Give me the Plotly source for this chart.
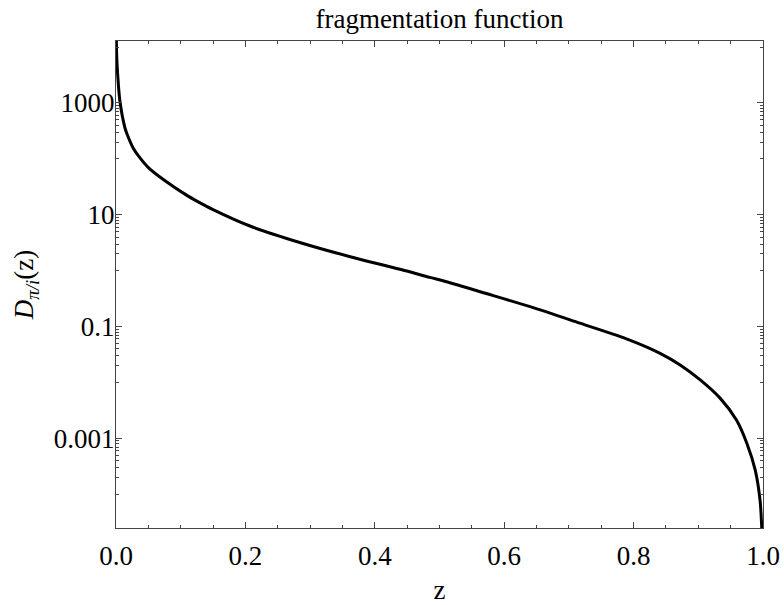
import plotly.graph_objects as go

# values
z = [0.0005, 0.001, 0.0026, 0.0062, 0.0139, 0.0175, 0.0267, 0.035, 0.05, 0.078,
     0.109, 0.125, 0.15, 0.207, 0.284, 0.362, 0.439, 0.485, 0.516, 0.563,
     0.64, 0.717, 0.794, 0.841, 0.872, 0.903, 0.934, 0.959, 0.975, 0.988,
     0.9954, 0.998, 0.9995]
D = [20000, 7200, 3200, 1050, 357, 270, 155, 112, 70, 39,
     22.5, 17.6, 12.4, 6.3, 3.2, 1.78, 1.06, 0.76, 0.61, 0.42,
     0.227, 0.115, 0.0575, 0.0333, 0.0206, 0.0111, 0.0052, 0.00213, 8.2e-4, 2.7e-4,
     7.9e-5, 2.6e-5, 5e-6]

x_ticks = [0.0, 0.2, 0.4, 0.6, 0.8, 1.0]
y_ticks = [1000, 10, 0.1, 0.001]
y_labels = ["1000", "10", "0.1", "0.001"]
# minor ticks: the decade below each labelled tick
y_minor = [m * f / 10 for m in [100000, 1000, 10, 0.1, 0.001] for f in range(1, 10)]

font = "Liberation Serif, Times New Roman, serif"
frame = "#444444"
fsize = 27

fig = go.Figure()
fig.add_trace(go.Scatter(
    x=z, y=D, mode="lines",
    line=dict(color="black", width=3, shape="spline", smoothing=0.9),
    showlegend=False, hoverinfo="skip",
))

fig.update_xaxes(
    range=[0, 1], automargin=False,
    tickmode="array", tickvals=x_ticks, tickformat=".1f",
    ticks="inside", ticklen=6, tickcolor=frame, tickwidth=1,
    minor=dict(dtick=0.05, tick0=0, ticks="inside", ticklen=3, tickcolor=frame),
    showline=True, linecolor=frame, linewidth=1, mirror="ticks",
    showgrid=False, zeroline=False,
    tickfont=dict(family=font, size=fsize, color="black"),
    ticklabelstandoff=4,
    title=dict(text="z", font=dict(family=font, size=fsize, color="black"), standoff=10),
)
fig.update_yaxes(
    type="log", range=[-4.603, 4.109], automargin=False,
    tickmode="array", tickvals=y_ticks, ticktext=y_labels,
    ticks="inside", ticklen=6, tickcolor=frame, tickwidth=1,
    minor=dict(tickmode="array", tickvals=y_minor, ticks="inside", ticklen=3, tickcolor=frame),
    showline=True, linecolor=frame, linewidth=1, mirror="ticks",
    showgrid=False, zeroline=False,
    tickfont=dict(family=font, size=fsize, color="black"),
    ticklabelstandoff=-5,
    title=dict(text="<i>D</i><sub><i>π/i</i></sub>(z)",
               font=dict(family=font, size=fsize, color="black"), standoff=12),
)

fig.update_layout(
    width=784, height=605,
    margin=dict(l=116, r=21, t=41, b=77),
    plot_bgcolor="white", paper_bgcolor="white",
    title=dict(text="fragmentation function", x=0.5606, xanchor="center",
               y=0.9686, yanchor="middle",
               font=dict(family=font, size=fsize, color="black")),
)

# drop the default 8px body margin so the figure fills the window
fig.write_html("out.html", config={"displayModeBar": False},
               post_script="document.body.style.margin = '0';")
